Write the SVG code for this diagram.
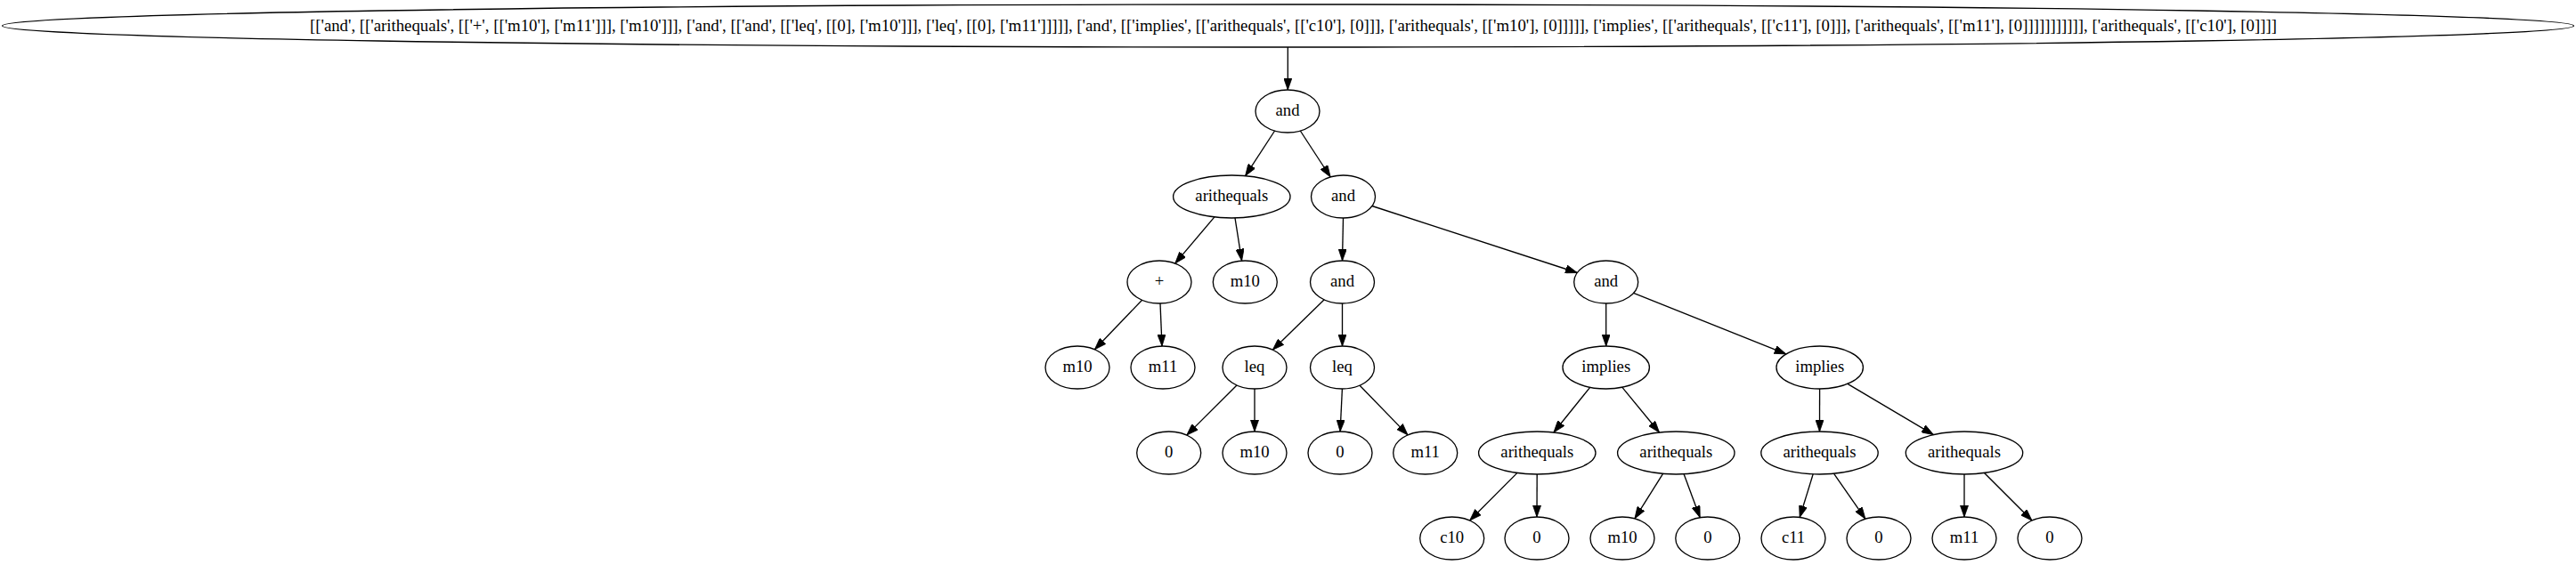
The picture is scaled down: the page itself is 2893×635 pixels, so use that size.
<svg xmlns="http://www.w3.org/2000/svg" width="2893" height="635" viewBox="0 0 2893 635">
<defs>
<marker id="ah" markerUnits="userSpaceOnUse" viewBox="0 0 10 7" refX="10" refY="3.5" markerWidth="13.3" markerHeight="9.3" orient="auto">
<path d="M0,0 L10,3.5 L0,7 Z" fill="#000" stroke="#000" stroke-width="0.6"/>
</marker>
</defs>
<style>
.n ellipse{fill:none;stroke:#000;stroke-width:1.33}
.n text{font-family:"Liberation Serif","Times New Roman",serif;font-size:18.67px;text-anchor:middle;fill:#000}
.e path{fill:none;stroke:#000;stroke-width:1.33;marker-end:url(#ah)}
</style>
<rect width="2893" height="635" fill="#fff"/>
<g id="edges" class="e">
<path d="M1446.3,53 L1446.3,101"/>
<path d="M1431.6,147 L1398.6,197.7"/>
<path d="M1460.3,147 L1494.2,199"/>
<path d="M1363.9,243.9 L1319.7,296.1"/>
<path d="M1387,245 L1394.6,293.1"/>
<path d="M1282.6,337.2 L1229.4,392.8"/>
<path d="M1303,341 L1305,389"/>
<path d="M1508.5,245 L1507.5,293"/>
<path d="M1540.9,231.5 L1771.3,306.5"/>
<path d="M1487.2,336.8 L1429.3,393.2"/>
<path d="M1507.5,341 L1507.5,389"/>
<path d="M1389,433 L1332.7,489.1"/>
<path d="M1409,437 L1409,485"/>
<path d="M1507.4,437 L1505.1,485"/>
<path d="M1527.1,433.2 L1581.1,488.9"/>
<path d="M1803.7,341 L1803.7,389"/>
<path d="M1834.6,329.3 L2005.9,397.9"/>
<path d="M1785.7,435.3 L1744.9,486"/>
<path d="M1821.9,435.3 L1863.5,486"/>
<path d="M2043.6,437 L2043.5,485"/>
<path d="M2074.9,431.4 L2171.5,488.6"/>
<path d="M1703.8,531.6 L1650.6,585"/>
<path d="M1726.2,533 L1726,581"/>
<path d="M1867.6,532.4 L1835.9,582.9"/>
<path d="M1891.1,532.8 L1909.2,581.7"/>
<path d="M2036.2,532.8 L2021.2,581.5"/>
<path d="M2059.6,532.3 L2094.9,583.2"/>
<path d="M2206,533 L2206,581"/>
<path d="M2228.5,531.5 L2282,585"/>
</g>
<g id="n0" class="n"><ellipse cx="1446.5" cy="29" rx="1444" ry="24"/><text x="1452.5" y="34.5" textLength="2209" lengthAdjust="spacingAndGlyphs">[['and', [['arithequals', [['+', [['m10'], ['m11']]], ['m10']]], ['and', [['and', [['leq', [[0], ['m10']]], ['leq', [[0], ['m11']]]]], ['and', [['implies', [['arithequals', [['c10'], [0]]], ['arithequals', [['m10'], [0]]]]], ['implies', [['arithequals', [['c11'], [0]]], ['arithequals', [['m11'], [0]]]]]]]]]]], ['arithequals', [['c10'], [0]]]]</text></g>
<g id="n1" class="n"><ellipse cx="1446" cy="125" rx="36" ry="24"/><text x="1446" y="130">and</text></g>
<g id="n2" class="n"><ellipse cx="1383.3" cy="221" rx="65.7" ry="24"/><text x="1383.3" y="226">arithequals</text></g>
<g id="n3" class="n"><ellipse cx="1508.5" cy="221" rx="36" ry="24"/><text x="1508.5" y="226">and</text></g>
<g id="n4" class="n"><ellipse cx="1302" cy="317" rx="36" ry="24"/><text x="1302" y="322">+</text></g>
<g id="n5" class="n"><ellipse cx="1398.3" cy="317" rx="36" ry="24"/><text x="1398.3" y="322">m10</text></g>
<g id="n6" class="n"><ellipse cx="1210" cy="413" rx="36" ry="24"/><text x="1210" y="418">m10</text></g>
<g id="n7" class="n"><ellipse cx="1306" cy="413" rx="36" ry="24"/><text x="1306" y="418">m11</text></g>
<g id="n8" class="n"><ellipse cx="1507.5" cy="317" rx="36" ry="24"/><text x="1507.5" y="322">and</text></g>
<g id="n9" class="n"><ellipse cx="1409" cy="413" rx="36" ry="24"/><text x="1409" y="418">leq</text></g>
<g id="n10" class="n"><ellipse cx="1507.5" cy="413" rx="36" ry="24"/><text x="1507.5" y="418">leq</text></g>
<g id="n11" class="n"><ellipse cx="1312.7" cy="509" rx="36" ry="24"/><text x="1312.7" y="514">0</text></g>
<g id="n12" class="n"><ellipse cx="1409" cy="509" rx="36" ry="24"/><text x="1409" y="514">m10</text></g>
<g id="n13" class="n"><ellipse cx="1505" cy="509" rx="36" ry="24"/><text x="1505" y="514">0</text></g>
<g id="n14" class="n"><ellipse cx="1600.7" cy="509" rx="36" ry="24"/><text x="1600.7" y="514">m11</text></g>
<g id="n15" class="n"><ellipse cx="1803.7" cy="317" rx="36" ry="24"/><text x="1803.7" y="322">and</text></g>
<g id="n16" class="n"><ellipse cx="1803.7" cy="413" rx="48.7" ry="24"/><text x="1803.7" y="418">implies</text></g>
<g id="n17" class="n"><ellipse cx="2043.7" cy="413" rx="48.7" ry="24"/><text x="2043.7" y="418">implies</text></g>
<g id="n18" class="n"><ellipse cx="1726.3" cy="509" rx="65.7" ry="24"/><text x="1726.3" y="514">arithequals</text></g>
<g id="n19" class="n"><ellipse cx="1882.3" cy="509" rx="65.7" ry="24"/><text x="1882.3" y="514">arithequals</text></g>
<g id="n20" class="n"><ellipse cx="2043.5" cy="509" rx="65.7" ry="24"/><text x="2043.5" y="514">arithequals</text></g>
<g id="n21" class="n"><ellipse cx="2206" cy="509" rx="65.7" ry="24"/><text x="2206" y="514">arithequals</text></g>
<g id="n22" class="n"><ellipse cx="1630.7" cy="605" rx="36" ry="24"/><text x="1630.7" y="610">c10</text></g>
<g id="n23" class="n"><ellipse cx="1726" cy="605" rx="36" ry="24"/><text x="1726" y="610">0</text></g>
<g id="n24" class="n"><ellipse cx="1822" cy="605" rx="36" ry="24"/><text x="1822" y="610">m10</text></g>
<g id="n25" class="n"><ellipse cx="1917.8" cy="605" rx="36" ry="24"/><text x="1917.8" y="610">0</text></g>
<g id="n26" class="n"><ellipse cx="2014" cy="605" rx="36" ry="24"/><text x="2014" y="610">c11</text></g>
<g id="n27" class="n"><ellipse cx="2110" cy="605" rx="36" ry="24"/><text x="2110" y="610">0</text></g>
<g id="n28" class="n"><ellipse cx="2206" cy="605" rx="36" ry="24"/><text x="2206" y="610">m11</text></g>
<g id="n29" class="n"><ellipse cx="2302" cy="605" rx="36" ry="24"/><text x="2302" y="610">0</text></g>
</svg>
